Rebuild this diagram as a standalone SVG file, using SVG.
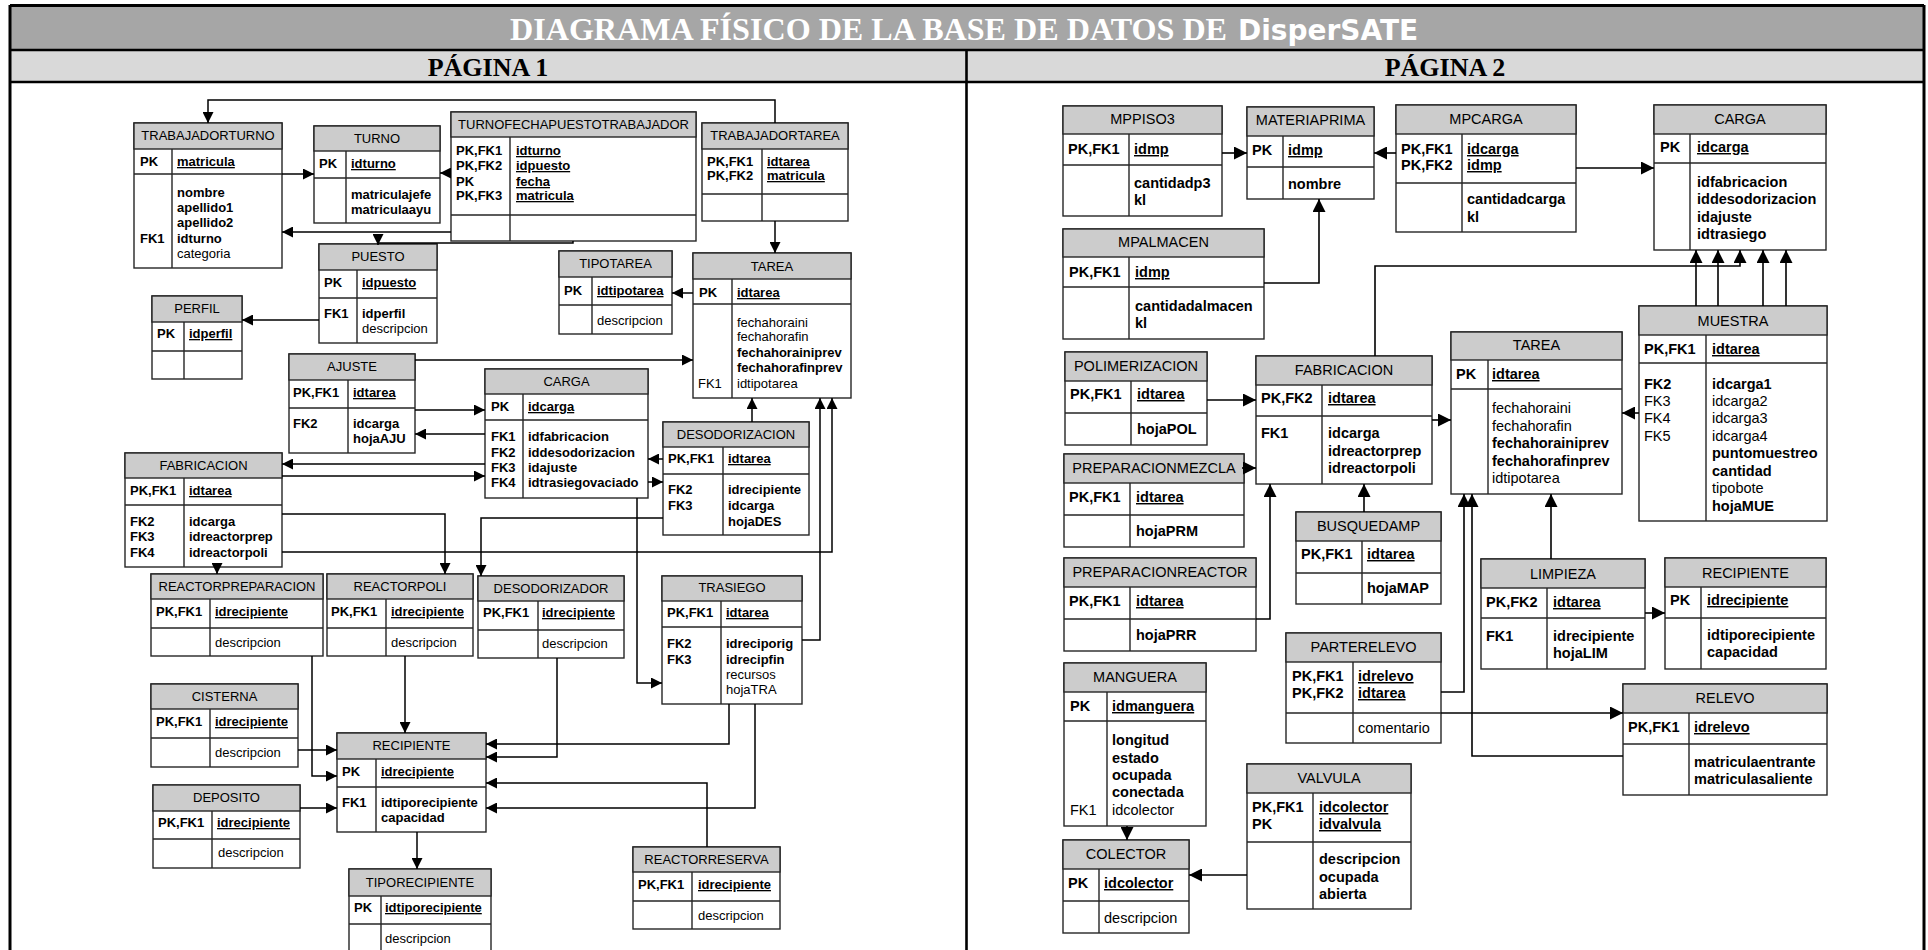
<svg xmlns="http://www.w3.org/2000/svg" width="1928" height="950" viewBox="0 0 1928 950">
<style>
text{font-family:"Liberation Sans",Arial,sans-serif;fill:#000}
.p1 text{font-size:13px}
.p2 text{font-size:14.5px}
.th{text-anchor:middle}
.b{font-weight:bold}
.u{text-decoration:underline}
.bx{fill:#fff;stroke:#262626;stroke-width:1.4}
.hd{fill:#cccccc;stroke:#262626;stroke-width:1.4}
.ln{fill:none;stroke:#262626;stroke-width:1.4}
.c1{fill:none;stroke:#000;stroke-width:1.5;marker-end:url(#ah1)}
.c2{fill:none;stroke:#000;stroke-width:1.6;marker-end:url(#ah2)}
.frame{fill:none;stroke:#000}
</style>
<defs>
<marker id="ah1" viewBox="0 0 10 10" refX="10" refY="5" markerWidth="11" markerHeight="11" markerUnits="userSpaceOnUse" orient="auto"><path d="M0,0 L10,5 L0,10 z" fill="#000"/></marker>
<marker id="ah2" viewBox="0 0 10 10" refX="10" refY="5" markerWidth="13" markerHeight="13" markerUnits="userSpaceOnUse" orient="auto"><path d="M0,0 L10,5 L0,10 z" fill="#000"/></marker>
</defs>
<rect x="0" y="0" width="1928" height="950" fill="#fff"/>

<!-- header bands -->
<g id="header">
<rect x="10" y="5" width="1914" height="45" fill="#a6a6a6"/>
<rect x="10" y="50" width="1914" height="32" fill="#d9d9d9"/>
<text x="510" y="40" textLength="717" lengthAdjust="spacingAndGlyphs" style="font-family:'Liberation Serif','Times New Roman',serif;font-size:32px;font-weight:bold;fill:#fff">DIAGRAMA FÍSICO DE LA BASE DE DATOS DE</text>
<text x="1238" y="40" style="font-family:'DejaVu Sans',Verdana,sans-serif;font-size:28px;font-weight:bold;fill:#fff">DisperSATE</text>
<text x="488" y="76" text-anchor="middle" style="font-family:'Liberation Serif','Times New Roman',serif;font-size:26px;font-weight:bold">PÁGINA 1</text>
<text x="1445" y="76" text-anchor="middle" style="font-family:'Liberation Serif','Times New Roman',serif;font-size:26px;font-weight:bold">PÁGINA 2</text>
<path class="frame" stroke-width="3" d="M10,5.5H1924M10,5V960M1924,5V960"/>
<path class="frame" stroke-width="2.6" d="M10,50H1924M10,82H1924M966.5,50V960"/>
</g>

<!-- ===== page 1 tables ===== -->
<g class="p1">
<g id="trabajadorturno">
<rect class="bx" x="134" y="123" width="148" height="145"/><rect class="hd" x="134" y="123" width="148" height="26"/>
<path class="ln" d="M134,174H282M172,149V268"/>
<text class="th" x="208" y="140">TRABAJADORTURNO</text>
<text class="b" x="140" y="166">PK</text><text class="b u" x="177" y="166">matricula</text>
<text class="b" x="177" y="197">nombre</text><text class="b" x="177" y="212">apellido1</text><text class="b" x="177" y="227">apellido2</text>
<text class="b" x="140" y="243">FK1</text><text class="b" x="177" y="243">idturno</text><text x="177" y="258">categoria</text>
</g>
<g id="turno">
<rect class="bx" x="314" y="126" width="126" height="97"/><rect class="hd" x="314" y="126" width="126" height="25"/>
<path class="ln" d="M314,178H440M346,151V223"/>
<text class="th" x="377" y="143">TURNO</text>
<text class="b" x="319" y="168">PK</text><text class="b u" x="351" y="168">idturno</text>
<text class="b" x="351" y="199">matriculajefe</text><text class="b" x="351" y="214">matriculaayu</text>
</g>
<g id="turnofechapuestotrabajador">
<rect class="bx" x="451" y="112" width="245" height="129"/><rect class="hd" x="451" y="112" width="245" height="25"/>
<path class="ln" d="M451,215H696M510,137V241"/>
<text class="th" x="573.5" y="129">TURNOFECHAPUESTOTRABAJADOR</text>
<text class="b" x="456" y="155">PK,FK1</text><text class="b" x="456" y="170">PK,FK2</text><text class="b" x="456" y="186">PK</text><text class="b" x="456" y="200">PK,FK3</text>
<text class="b u" x="516" y="155">idturno</text><text class="b u" x="516" y="170">idpuesto</text><text class="b u" x="516" y="186">fecha</text><text class="b u" x="516" y="200">matricula</text>
</g>
<g id="trabajadortarea">
<rect class="bx" x="702" y="123" width="146" height="98"/><rect class="hd" x="702" y="123" width="146" height="26"/>
<path class="ln" d="M702,194H848M762,149V221"/>
<text class="th" x="775" y="140">TRABAJADORTAREA</text>
<text class="b" x="707" y="166">PK,FK1</text><text class="b" x="707" y="180">PK,FK2</text>
<text class="b u" x="767" y="166">idtarea</text><text class="b u" x="767" y="180">matricula</text>
</g>
<g id="puesto">
<rect class="bx" x="319" y="244" width="118" height="99"/><rect class="hd" x="319" y="244" width="118" height="26"/>
<path class="ln" d="M319,298H437M357,270V343"/>
<text class="th" x="378" y="261">PUESTO</text>
<text class="b" x="324" y="287">PK</text><text class="b u" x="362" y="287">idpuesto</text>
<text class="b" x="324" y="318">FK1</text><text class="b" x="362" y="318">idperfil</text><text x="362" y="333">descripcion</text>
</g>
<g id="perfil">
<rect class="bx" x="152" y="296" width="90" height="83"/><rect class="hd" x="152" y="296" width="90" height="26"/>
<path class="ln" d="M152,351H242M184,322V379"/>
<text class="th" x="197" y="313">PERFIL</text>
<text class="b" x="157" y="338">PK</text><text class="b u" x="189" y="338">idperfil</text>
</g>
<g id="tipotarea">
<rect class="bx" x="559" y="251" width="113" height="83"/><rect class="hd" x="559" y="251" width="113" height="26"/>
<path class="ln" d="M559,305H672M592,277V334"/>
<text class="th" x="615.5" y="268">TIPOTAREA</text>
<text class="b" x="564" y="295">PK</text><text class="b u" x="597" y="295">idtipotarea</text>
<text x="597" y="325">descripcion</text>
</g>
<g id="tarea-p1">
<rect class="bx" x="693" y="253" width="158" height="145"/><rect class="hd" x="693" y="253" width="158" height="26"/>
<path class="ln" d="M693,304H851M732,279V398"/>
<text class="th" x="772" y="271">TAREA</text>
<text class="b" x="699" y="297">PK</text><text class="b u" x="737" y="297">idtarea</text>
<text x="737" y="327">fechahoraini</text><text x="737" y="341">fechahorafin</text>
<text class="b" x="737" y="357">fechahorainiprev</text><text class="b" x="737" y="372">fechahorafinprev</text>
<text x="698" y="388">FK1</text><text x="737" y="388">idtipotarea</text>
</g>
<g id="ajuste">
<rect class="bx" x="289" y="354" width="126" height="99"/><rect class="hd" x="289" y="354" width="126" height="26"/>
<path class="ln" d="M289,408H415M348,380V453"/>
<text class="th" x="352" y="371">AJUSTE</text>
<text class="b" x="293" y="397">PK,FK1</text><text class="b u" x="353" y="397">idtarea</text>
<text class="b" x="293" y="428">FK2</text><text class="b" x="353" y="428">idcarga</text><text class="b" x="353" y="443">hojaAJU</text>
</g>
<g id="carga-p1">
<rect class="bx" x="485" y="369" width="163" height="129"/><rect class="hd" x="485" y="369" width="163" height="25"/>
<path class="ln" d="M485,420H648M523,394V498"/>
<text class="th" x="566.5" y="386">CARGA</text>
<text class="b" x="491" y="411">PK</text><text class="b u" x="528" y="411">idcarga</text>
<text class="b" x="491" y="441">FK1</text><text class="b" x="491" y="457">FK2</text><text class="b" x="491" y="472">FK3</text><text class="b" x="491" y="487">FK4</text>
<text class="b" x="528" y="441">idfabricacion</text><text class="b" x="528" y="457">iddesodorizacion</text><text class="b" x="528" y="472">idajuste</text><text class="b" x="528" y="487">idtrasiegovaciado</text>
</g>
<g id="fabricacion-p1">
<rect class="bx" x="125" y="453" width="157" height="114"/><rect class="hd" x="125" y="453" width="157" height="25"/>
<path class="ln" d="M125,505H282M184,478V567"/>
<text class="th" x="203.5" y="470">FABRICACION</text>
<text class="b" x="130" y="495">PK,FK1</text><text class="b u" x="189" y="495">idtarea</text>
<text class="b" x="130" y="526">FK2</text><text class="b" x="130" y="541">FK3</text><text class="b" x="130" y="557">FK4</text>
<text class="b" x="189" y="526">idcarga</text><text class="b" x="189" y="541">idreactorprep</text><text class="b" x="189" y="557">idreactorpoli</text>
</g>
<g id="desodorizacion">
<rect class="bx" x="663" y="422" width="146" height="113"/><rect class="hd" x="663" y="422" width="146" height="25"/>
<path class="ln" d="M663,474H809M723,447V535"/>
<text class="th" x="736" y="439">DESODORIZACION</text>
<text class="b" x="668" y="463">PK,FK1</text><text class="b u" x="728" y="463">idtarea</text>
<text class="b" x="668" y="494">FK2</text><text class="b" x="668" y="510">FK3</text>
<text class="b" x="728" y="494">idrecipiente</text><text class="b" x="728" y="510">idcarga</text><text class="b" x="728" y="526">hojaDES</text>
</g>
<g id="reactorpreparacion">
<rect class="bx" x="151" y="574" width="172" height="82"/><rect class="hd" x="151" y="574" width="172" height="25"/>
<path class="ln" d="M151,628H323M210,599V656"/>
<text class="th" x="237" y="591">REACTORPREPARACION</text>
<text class="b" x="156" y="616">PK,FK1</text><text class="b u" x="215" y="616">idrecipiente</text>
<text x="215" y="647">descripcion</text>
</g>
<g id="reactorpoli">
<rect class="bx" x="327" y="574" width="146" height="82"/><rect class="hd" x="327" y="574" width="146" height="25"/>
<path class="ln" d="M327,628H473M386,599V656"/>
<text class="th" x="400" y="591">REACTORPOLI</text>
<text class="b" x="331" y="616">PK,FK1</text><text class="b u" x="391" y="616">idrecipiente</text>
<text x="391" y="647">descripcion</text>
</g>
<g id="desodorizador">
<rect class="bx" x="478" y="576" width="146" height="82"/><rect class="hd" x="478" y="576" width="146" height="25"/>
<path class="ln" d="M478,630H624M538,601V658"/>
<text class="th" x="551" y="593">DESODORIZADOR</text>
<text class="b" x="483" y="617">PK,FK1</text><text class="b u" x="542" y="617">idrecipiente</text>
<text x="542" y="648">descripcion</text>
</g>
<g id="trasiego">
<rect class="bx" x="662" y="576" width="140" height="128"/><rect class="hd" x="662" y="576" width="140" height="25"/>
<path class="ln" d="M662,627H802M721,601V704"/>
<text class="th" x="732" y="592">TRASIEGO</text>
<text class="b" x="667" y="617">PK,FK1</text><text class="b u" x="726" y="617">idtarea</text>
<text class="b" x="667" y="648">FK2</text><text class="b" x="667" y="664">FK3</text>
<text class="b" x="726" y="648">idreciporig</text><text class="b" x="726" y="664">idrecipfin</text><text x="726" y="679">recursos</text><text x="726" y="694">hojaTRA</text>
</g>
<g id="cisterna">
<rect class="bx" x="151" y="684" width="147" height="83"/><rect class="hd" x="151" y="684" width="147" height="25"/>
<path class="ln" d="M151,738H298M210,709V767"/>
<text class="th" x="224.5" y="701">CISTERNA</text>
<text class="b" x="156" y="726">PK,FK1</text><text class="b u" x="215" y="726">idrecipiente</text>
<text x="215" y="757">descripcion</text>
</g>
<g id="deposito">
<rect class="bx" x="153" y="785" width="147" height="83"/><rect class="hd" x="153" y="785" width="147" height="26"/>
<path class="ln" d="M153,839H300M212,811V868"/>
<text class="th" x="226.5" y="802">DEPOSITO</text>
<text class="b" x="158" y="827">PK,FK1</text><text class="b u" x="217" y="827">idrecipiente</text>
<text x="218" y="857">descripcion</text>
</g>
<g id="recipiente-p1">
<rect class="bx" x="337" y="733" width="149" height="99"/><rect class="hd" x="337" y="733" width="149" height="26"/>
<path class="ln" d="M337,787H486M376,759V832"/>
<text class="th" x="411.5" y="750">RECIPIENTE</text>
<text class="b" x="342" y="776">PK</text><text class="b u" x="381" y="776">idrecipiente</text>
<text class="b" x="342" y="807">FK1</text><text class="b" x="381" y="807">idtiporecipiente</text><text class="b" x="381" y="822">capacidad</text>
</g>
<g id="tiporecipiente">
<rect class="bx" x="349" y="869" width="142" height="100"/><rect class="hd" x="349" y="869" width="142" height="27"/>
<path class="ln" d="M349,924H491M381,896V969"/>
<text class="th" x="420" y="887">TIPORECIPIENTE</text>
<text class="b" x="354" y="912">PK</text><text class="b u" x="385" y="912">idtiporecipiente</text>
<text x="385" y="943">descripcion</text>
</g>
<g id="reactorreserva">
<rect class="bx" x="633" y="847" width="147" height="82"/><rect class="hd" x="633" y="847" width="147" height="25"/>
<path class="ln" d="M633,901H780M692,872V929"/>
<text class="th" x="706.5" y="864">REACTORRESERVA</text>
<text class="b" x="638" y="889">PK,FK1</text><text class="b u" x="698" y="889">idrecipiente</text>
<text x="698" y="920">descripcion</text>
</g>
</g>

<!-- ===== page 2 tables ===== -->
<g class="p2">
<g id="mppiso3">
<rect class="bx" x="1063" y="106" width="159" height="110"/><rect class="hd" x="1063" y="106" width="159" height="28"/>
<path class="ln" d="M1063,165H1222M1129,134V216"/>
<text class="th" x="1142.5" y="124">MPPISO3</text>
<text class="b" x="1068" y="154">PK,FK1</text><text class="b u" x="1134" y="154">idmp</text>
<text class="b" x="1134" y="188">cantidadp3</text><text class="b" x="1134" y="205">kl</text>
</g>
<g id="materiaprima">
<rect class="bx" x="1247" y="107" width="127" height="92"/><rect class="hd" x="1247" y="107" width="127" height="29"/>
<path class="ln" d="M1247,167H1374M1283,136V199"/>
<text class="th" x="1310.5" y="125">MATERIAPRIMA</text>
<text class="b" x="1252" y="155">PK</text><text class="b u" x="1288" y="155">idmp</text>
<text class="b" x="1288" y="189">nombre</text>
</g>
<g id="mpalmacen">
<rect class="bx" x="1063" y="229" width="201" height="110"/><rect class="hd" x="1063" y="229" width="201" height="28"/>
<path class="ln" d="M1063,287H1264M1129,257V339"/>
<text class="th" x="1163.5" y="247">MPALMACEN</text>
<text class="b" x="1069" y="277">PK,FK1</text><text class="b u" x="1135" y="277">idmp</text>
<text class="b" x="1135" y="311">cantidadalmacen</text><text class="b" x="1135" y="328">kl</text>
</g>
<g id="mpcarga">
<rect class="bx" x="1396" y="105" width="180" height="127"/><rect class="hd" x="1396" y="105" width="180" height="29"/>
<path class="ln" d="M1396,183H1576M1462,134V232"/>
<text class="th" x="1486" y="124">MPCARGA</text>
<text class="b" x="1401" y="154">PK,FK1</text><text class="b" x="1401" y="170">PK,FK2</text>
<text class="b u" x="1467" y="154">idcarga</text><text class="b u" x="1467" y="170">idmp</text>
<text class="b" x="1467" y="204">cantidadcarga</text><text class="b" x="1467" y="222">kl</text>
</g>
<g id="carga-p2">
<rect class="bx" x="1654" y="105" width="172" height="145"/><rect class="hd" x="1654" y="105" width="172" height="29"/>
<path class="ln" d="M1654,163H1826M1690,134V250"/>
<text class="th" x="1740" y="124">CARGA</text>
<text class="b" x="1660" y="152">PK</text><text class="b u" x="1697" y="152">idcarga</text>
<text class="b" x="1697" y="187">idfabricacion</text><text class="b" x="1697" y="204">iddesodorizacion</text><text class="b" x="1697" y="222">idajuste</text><text class="b" x="1697" y="239">idtrasiego</text>
</g>
<g id="muestra">
<rect class="bx" x="1639" y="306" width="188" height="215"/><rect class="hd" x="1639" y="306" width="188" height="29"/>
<path class="ln" d="M1639,363H1827M1706,335V521"/>
<text class="th" x="1733" y="326">MUESTRA</text>
<text class="b" x="1644" y="354">PK,FK1</text><text class="b u" x="1712" y="354">idtarea</text>
<text class="b" x="1644" y="389">FK2</text><text x="1644" y="406">FK3</text><text x="1644" y="423">FK4</text><text x="1644" y="441">FK5</text>
<text class="b" x="1712" y="389">idcarga1</text><text x="1712" y="406">idcarga2</text><text x="1712" y="423">idcarga3</text><text x="1712" y="441">idcarga4</text>
<text class="b" x="1712" y="458">puntomuestreo</text><text class="b" x="1712" y="476">cantidad</text><text x="1712" y="493">tipobote</text><text class="b" x="1712" y="511">hojaMUE</text>
</g>
<g id="tarea-p2">
<rect class="bx" x="1451" y="332" width="171" height="162"/><rect class="hd" x="1451" y="332" width="171" height="28"/>
<path class="ln" d="M1451,389H1622M1488,360V494"/>
<text class="th" x="1536.5" y="350">TAREA</text>
<text class="b" x="1456" y="379">PK</text><text class="b u" x="1492" y="379">idtarea</text>
<text x="1492" y="413">fechahoraini</text><text x="1492" y="431">fechahorafin</text>
<text class="b" x="1492" y="448">fechahorainiprev</text><text class="b" x="1492" y="466">fechahorafinprev</text>
<text x="1492" y="483">idtipotarea</text>
</g>
<g id="polimerizacion">
<rect class="bx" x="1065" y="352" width="142" height="93"/><rect class="hd" x="1065" y="352" width="142" height="29"/>
<path class="ln" d="M1065,413H1207M1131,381V445"/>
<text class="th" x="1136" y="371">POLIMERIZACION</text>
<text class="b" x="1070" y="399">PK,FK1</text><text class="b u" x="1137" y="399">idtarea</text>
<text class="b" x="1137" y="434">hojaPOL</text>
</g>
<g id="fabricacion-p2">
<rect class="bx" x="1256" y="356" width="176" height="128"/><rect class="hd" x="1256" y="356" width="176" height="29"/>
<path class="ln" d="M1256,416H1432M1322,385V484"/>
<text class="th" x="1344" y="375">FABRICACION</text>
<text class="b" x="1261" y="403">PK,FK2</text><text class="b u" x="1328" y="403">idtarea</text>
<text class="b" x="1261" y="438">FK1</text>
<text class="b" x="1328" y="438">idcarga</text><text class="b" x="1328" y="456">idreactorprep</text><text class="b" x="1328" y="473">idreactorpoli</text>
</g>
<g id="preparacionmezcla">
<rect class="bx" x="1064" y="454" width="180" height="93"/><rect class="hd" x="1064" y="454" width="180" height="29"/>
<path class="ln" d="M1064,515H1244M1130,483V547"/>
<text class="th" x="1154" y="473">PREPARACIONMEZCLA</text>
<text class="b" x="1069" y="502">PK,FK1</text><text class="b u" x="1136" y="502">idtarea</text>
<text class="b" x="1136" y="536">hojaPRM</text>
</g>
<g id="preparacionreactor">
<rect class="bx" x="1064" y="558" width="192" height="93"/><rect class="hd" x="1064" y="558" width="192" height="29"/>
<path class="ln" d="M1064,619H1256M1130,587V651"/>
<text class="th" x="1160" y="577">PREPARACIONREACTOR</text>
<text class="b" x="1069" y="606">PK,FK1</text><text class="b u" x="1136" y="606">idtarea</text>
<text class="b" x="1136" y="640">hojaPRR</text>
</g>
<g id="busquedamp">
<rect class="bx" x="1296" y="512" width="145" height="92"/><rect class="hd" x="1296" y="512" width="145" height="29"/>
<path class="ln" d="M1296,573H1441M1362,541V604"/>
<text class="th" x="1368.5" y="531">BUSQUEDAMP</text>
<text class="b" x="1301" y="559">PK,FK1</text><text class="b u" x="1367" y="559">idtarea</text>
<text class="b" x="1367" y="593">hojaMAP</text>
</g>
<g id="parterelevo">
<rect class="bx" x="1286" y="633" width="155" height="110"/><rect class="hd" x="1286" y="633" width="155" height="29"/>
<path class="ln" d="M1286,713H1441M1353,662V743"/>
<text class="th" x="1363.5" y="652">PARTERELEVO</text>
<text class="b" x="1292" y="681">PK,FK1</text><text class="b" x="1292" y="698">PK,FK2</text>
<text class="b u" x="1358" y="681">idrelevo</text><text class="b u" x="1358" y="698">idtarea</text>
<text x="1358" y="733">comentario</text>
</g>
<g id="limpieza">
<rect class="bx" x="1481" y="559" width="164" height="110"/><rect class="hd" x="1481" y="559" width="164" height="29"/>
<path class="ln" d="M1481,618H1645M1547,588V669"/>
<text class="th" x="1563" y="579">LIMPIEZA</text>
<text class="b" x="1486" y="607">PK,FK2</text><text class="b u" x="1553" y="607">idtarea</text>
<text class="b" x="1486" y="641">FK1</text><text class="b" x="1553" y="641">idrecipiente</text><text class="b" x="1553" y="658">hojaLIM</text>
</g>
<g id="recipiente-p2">
<rect class="bx" x="1665" y="558" width="161" height="111"/><rect class="hd" x="1665" y="558" width="161" height="29"/>
<path class="ln" d="M1665,618H1826M1701,587V669"/>
<text class="th" x="1745.5" y="578">RECIPIENTE</text>
<text class="b" x="1670" y="605">PK</text><text class="b u" x="1707" y="605">idrecipiente</text>
<text class="b" x="1707" y="640">idtiporecipiente</text><text class="b" x="1707" y="657">capacidad</text>
</g>
<g id="relevo">
<rect class="bx" x="1623" y="684" width="204" height="111"/><rect class="hd" x="1623" y="684" width="204" height="29"/>
<path class="ln" d="M1623,744H1827M1689,713V795"/>
<text class="th" x="1725" y="703">RELEVO</text>
<text class="b" x="1628" y="732">PK,FK1</text><text class="b u" x="1694" y="732">idrelevo</text>
<text class="b" x="1694" y="767">matriculaentrante</text><text class="b" x="1694" y="784">matriculasaliente</text>
</g>
<g id="manguera">
<rect class="bx" x="1064" y="663" width="142" height="163"/><rect class="hd" x="1064" y="663" width="142" height="29"/>
<path class="ln" d="M1064,721H1206M1107,692V826"/>
<text class="th" x="1135" y="682">MANGUERA</text>
<text class="b" x="1070" y="711">PK</text><text class="b u" x="1112" y="711">idmanguera</text>
<text class="b" x="1112" y="745">longitud</text><text class="b" x="1112" y="763">estado</text><text class="b" x="1112" y="780">ocupada</text><text class="b" x="1112" y="797">conectada</text>
<text x="1070" y="815">FK1</text><text x="1112" y="815">idcolector</text>
</g>
<g id="colector">
<rect class="bx" x="1063" y="840" width="126" height="93"/><rect class="hd" x="1063" y="840" width="126" height="29"/>
<path class="ln" d="M1063,901H1189M1099,869V933"/>
<text class="th" x="1126" y="859">COLECTOR</text>
<text class="b" x="1068" y="888">PK</text><text class="b u" x="1104" y="888">idcolector</text>
<text x="1104" y="923">descripcion</text>
</g>
<g id="valvula">
<rect class="bx" x="1247" y="764" width="164" height="145"/><rect class="hd" x="1247" y="764" width="164" height="29"/>
<path class="ln" d="M1247,842H1411M1313,793V909"/>
<text class="th" x="1329" y="783">VALVULA</text>
<text class="b" x="1252" y="812">PK,FK1</text><text class="b" x="1252" y="829">PK</text>
<text class="b u" x="1319" y="812">idcolector</text><text class="b u" x="1319" y="829">idvalvula</text>
<text class="b" x="1319" y="864">descripcion</text><text class="b" x="1319" y="882">ocupada</text><text class="b" x="1319" y="899">abierta</text>
</g>
</g>

<!-- ===== relationships ===== -->
<g id="connectors">
<path class="c1" d="M775,123V100H208V123"/>
<path class="c1" d="M282,174H314"/>
<path class="c1" d="M451,173H440"/>
<path class="c1" d="M451,232H282"/>
<path class="c1" d="M573,241V243H378V245"/>
<path class="c1" d="M775,221V253"/>
<path class="c1" d="M319,320H242"/>
<path class="c1" d="M693,293H672"/>
<path class="c1" d="M415,360H693"/>
<path class="c1" d="M415,410H485"/>
<path class="c1" d="M485,434H415"/>
<path class="c1" d="M485,464H282"/>
<path class="c1" d="M282,476H485"/>
<path class="c1" d="M752,422V398"/>
<path class="c1" d="M663,459H648"/>
<path class="c1" d="M648,482H663"/>
<path class="c1" d="M282,552H832V398"/>
<path class="c1" d="M802,640H820V398"/>
<path class="c1" d="M282,514H445V574"/>
<path class="c1" d="M217,567V574"/>
<path class="c1" d="M663,518H481V576"/>
<path class="c1" d="M637,498V683H662"/>
<path class="c1" d="M312,656V776H337"/>
<path class="c1" d="M405,656V733"/>
<path class="c1" d="M298,750H337"/>
<path class="c1" d="M300,808H337"/>
<path class="c1" d="M417,832V869"/>
<path class="c1" d="M557,658V757H486"/>
<path class="c1" d="M729,704V744H486"/>
<path class="c1" d="M755,704V808H486"/>
<path class="c1" d="M707,847V783H486"/>

<path class="c2" d="M1222,153H1247"/>
<path class="c2" d="M1396,153H1374"/>
<path class="c2" d="M1264,283H1319V199"/>
<path class="c2" d="M1576,168H1654"/>
<path class="c2" d="M1375,356V266H1740V250"/>
<path class="c2" d="M1696,306V250"/>
<path class="c2" d="M1718,306V250"/>
<path class="c2" d="M1763,306V250"/>
<path class="c2" d="M1786,306V250"/>
<path class="c2" d="M1639,413H1622"/>
<path class="c2" d="M1207,400H1256"/>
<path class="c2" d="M1242,468H1256"/>
<path class="c2" d="M1256,619H1270V484"/>
<path class="c2" d="M1364,512V484"/>
<path class="c2" d="M1432,420H1451"/>
<path class="c2" d="M1551,559V494"/>
<path class="c2" d="M1645,613H1665"/>
<path class="c2" d="M1441,692H1464V494"/>
<path class="c2" d="M1623,756H1472V494"/>
<path class="c2" d="M1441,713H1623"/>
<path class="c2" d="M1127,826V840"/>
<path class="c2" d="M1247,875H1189"/>
</g>
</svg>
